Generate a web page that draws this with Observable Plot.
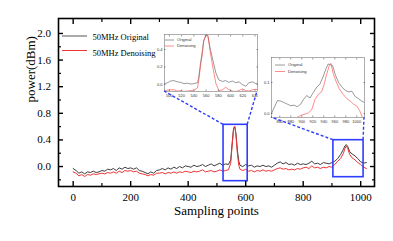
<!DOCTYPE html>
<html><head><meta charset="utf-8">
<script src="https://cdn.jsdelivr.net/npm/d3@7"></script>
<script src="https://cdn.jsdelivr.net/npm/@observablehq/plot@0.6"></script>
<style>
body{margin:0;background:#fff;}
#wrap{position:relative;width:393px;height:241px;overflow:hidden;}
#wrap > svg, #wrap > div{position:absolute;}
</style></head><body><div id="wrap"></div>
<script>
// ---- main series ----
const samples = [0,10,20,30,40,50,60,70,80,90,100,110,120,130,140,150,160,170,180,190,200,210,220,230,240,250,260,270,280,290,300,310,320,330,340,350,360,370,380,390,400,410,420,430,440,450,460,470,480,490,500,510,520,530,540,548,553,558,562,566,571,576,580,590,600,610,620,630,640,650,660,670,680,690,700,710,720,730,740,750,760,770,780,790,800,810,820,830,840,850,860,870,880,890,900,910,920,930,940,945,950,955,962,970,980,990,1000,1010,1020];
const original = [-0.03,-0.06,-0.10,-0.08,-0.11,-0.08,-0.09,-0.07,-0.09,-0.08,-0.06,-0.07,-0.04,-0.05,-0.03,-0.06,-0.02,-0.04,-0.01,-0.03,-0.02,-0.04,-0.02,-0.06,-0.07,-0.09,-0.11,-0.08,-0.10,-0.06,-0.05,-0.03,-0.05,-0.02,-0.04,-0.01,-0.03,0.00,-0.02,0.01,0.00,-0.01,0.02,0.00,0.01,0.03,0.00,0.02,0.04,0.01,0.03,0.05,0.02,0.04,0.03,0.10,0.35,0.58,0.60,0.50,0.25,0.08,0.02,0.00,0.03,0.01,0.02,-0.01,0.01,0.00,0.02,0.00,0.01,-0.01,0.02,0.05,0.07,0.04,0.06,0.03,0.04,0.02,0.05,0.03,0.04,0.03,0.05,0.08,0.04,0.05,0.03,0.06,0.05,0.04,0.06,0.08,0.12,0.18,0.26,0.31,0.33,0.30,0.22,0.19,0.16,0.12,0.07,0.05,0.06];
const denoising = [-0.08,-0.10,-0.14,-0.12,-0.15,-0.12,-0.13,-0.11,-0.12,-0.11,-0.10,-0.11,-0.09,-0.10,-0.08,-0.10,-0.07,-0.09,-0.06,-0.07,-0.06,-0.08,-0.07,-0.10,-0.11,-0.12,-0.14,-0.12,-0.13,-0.10,-0.10,-0.09,-0.11,-0.09,-0.10,-0.08,-0.10,-0.08,-0.09,-0.07,-0.08,-0.09,-0.07,-0.08,-0.07,-0.05,-0.08,-0.07,-0.06,-0.08,-0.07,-0.05,-0.07,-0.06,-0.05,0.05,0.32,0.57,0.60,0.48,0.20,0.02,-0.04,-0.06,-0.04,-0.07,-0.06,-0.08,-0.06,-0.07,-0.05,-0.07,-0.06,-0.07,-0.05,-0.03,-0.02,-0.04,-0.03,-0.05,-0.04,-0.05,-0.03,-0.04,-0.02,-0.01,-0.03,0.01,-0.02,-0.01,-0.03,-0.01,-0.02,0.00,-0.01,0.03,0.08,0.12,0.20,0.27,0.31,0.27,0.18,0.13,0.10,0.06,0.03,-0.01,-0.03];

// zoom boxes (data units)
const boxX1 = [523, 905], boxX2 = [607, 1010], boxY1 = [-0.22, -0.16], boxY2 = [0.627, 0.396];

// ticks
const xMajor = [0,200,400,600,800,1000], xMinor = [100,300,500,700,900];
const yMajor = [0,0.4,0.8,1.2,1.6,2.0], yMinor = [-0.2,0.2,0.6,1.0,1.4,1.8];
const seriesNames = ["50MHz Original","50MHz Denoising"];

// ---- inset 1 ----
const in1X = [492,497,502,507,513,518,524,529,535,540,546,548,551,554,556,560,563,567,572,576,581,587,592,597,603,608,614,619,625,630,636,641,644];
const in1Orig = [0.01,0.02,0.04,0.045,0.03,0.025,0.01,0.015,0.005,0.01,0.02,0.08,0.25,0.39,0.50,0.57,0.55,0.40,0.25,0.13,0.05,0.035,0.045,0.025,0.04,0.02,0.03,0.0,-0.02,0.02,0.03,0.01,0.015];
const in1Den = [-0.07,-0.065,-0.06,-0.06,-0.075,-0.07,-0.08,-0.075,-0.07,-0.065,-0.04,0.05,0.22,0.35,0.49,0.57,0.56,0.36,0.16,0.01,-0.07,-0.06,-0.03,-0.06,-0.075,-0.08,-0.07,-0.05,-0.07,-0.075,-0.06,-0.055,-0.06];
const in1XTicks = [500,520,540,560,580,600,620,640], in1YTicks = [0,0.2,0.4];

// ---- inset 2 ----
const in2OrigX = [845,850,856,862,868,874,880,886,892,898,903,909,915,921,927,933,939,944,948,952,956,961,967,973,979,985,991,997,1003,1009,1013];
const in2Orig = [0.0,0.02,0.042,0.04,0.035,0.03,0.025,0.027,0.022,0.03,0.045,0.058,0.05,0.068,0.085,0.095,0.12,0.145,0.16,0.158,0.155,0.125,0.1,0.085,0.075,0.07,0.072,0.055,0.048,0.04,0.036];
const in2DenX = [891,900,906,912,918,924,930,936,940,945,950,953,957,962,968,975,982,988,994,1000,1005,1010];
const in2Den = [-0.013,-0.005,-0.002,0.002,0.012,0.045,0.062,0.07,0.09,0.125,0.155,0.162,0.13,0.105,0.08,0.062,0.048,0.04,0.03,0.024,0.01,-0.012];
const in2XTicks = [860,880,900,920,940,960,980,1000], in2YTicks = [0,0.1];
const insetNames = ["Original","Denoising"];

// ---- style ----
const GRAY = "#3d3d3d", RED = "#f03434", BLUE = "#2f3dff";
const FONT = "'Liberation Serif','Times New Roman',serif";

const rows = (xs, ys) => xs.map((x, i) => ({x, y: ys[i]}));
const wrap = document.getElementById("wrap");

const boxes = boxX1.map((d, i) => ({x1: d, x2: boxX2[i], y1: boxY1[i], y2: boxY2[i]}));
const blank = () => "";

const main = Plot.plot({
  width: 393, height: 241,
  marginLeft: 58, marginRight: 19, marginTop: 18, marginBottom: 55,
  style: {fontFamily: FONT, fontSize: "11px", background: "transparent", color: "#000", overflow: "visible"},
  x: {domain: [-51, 1048]},
  y: {domain: [-0.3, 2.225]},
  marks: [
    Plot.line(rows(samples, original), {x: "x", y: "y", stroke: GRAY, strokeWidth: 1}),
    Plot.line(rows(samples, denoising), {x: "x", y: "y", stroke: RED, strokeWidth: 1}),
    Plot.rect(boxes, {x1: "x1", x2: "x2", y1: "y1", y2: "y2", stroke: BLUE, strokeWidth: 1.6, fill: "none"}),
    Plot.frame({stroke: "#000", strokeWidth: 1.6}),
    Plot.axisX({ticks: xMajor, tickSize: -5, tickPadding: 12, label: null, tickFormat: d => String(d), strokeWidth: 1.4}),
    Plot.axisX({ticks: xMinor, tickSize: -3, tickPadding: 0, label: null, tickFormat: blank, strokeWidth: 1.2}),
    Plot.axisX({anchor: "top", ticks: xMajor, tickSize: -5, label: null, tickFormat: blank, strokeWidth: 1.4}),
    Plot.axisX({anchor: "top", ticks: xMinor, tickSize: -3, label: null, tickFormat: blank, strokeWidth: 1.2}),
    Plot.axisY({ticks: yMajor, tickSize: -5, tickPadding: 12.5, label: null, tickFormat: d3.format(".1f"), strokeWidth: 1.4}),
    Plot.axisY({ticks: yMinor, tickSize: -3, label: null, tickFormat: blank, strokeWidth: 1.2}),
    Plot.axisY({anchor: "right", ticks: yMajor, tickSize: -5, label: null, tickFormat: blank, strokeWidth: 1.4}),
    Plot.axisY({anchor: "right", ticks: yMinor, tickSize: -3, label: null, tickFormat: blank, strokeWidth: 1.2}),
    Plot.text(["Sampling points"], {frameAnchor: "bottom", dy: 28, fontSize: 13}),
    Plot.text(["power(dBm)"], {frameAnchor: "left", rotate: -90, dx: -28, fontSize: 13})
  ]
});
main.style.left = "0px"; main.style.top = "0px";
wrap.appendChild(main);

// legend in main chart
const msvg = d3.select(main);
const legColors = ["#555", RED];
const legY = [36, 50.5], legTextY = [37.5, 53];
seriesNames.forEach((name, i) => {
  msvg.append("line").attr("x1", 62).attr("x2", 87).attr("y1", legY[i]).attr("y2", legY[i])
    .attr("stroke", legColors[i]).attr("stroke-width", 1);
  msvg.append("text").attr("x", 92.5).attr("y", legTextY[i]).attr("dy", "0.32em")
    .attr("text-anchor", "start")
    .attr("font-family", FONT).attr("font-size", 8.5).attr("fill", "#000").text(name);
});

// ---- insets ----
const insetLayout = [{left: 164, top: 34, w: 93, h: 57}, {left: 271, top: 57, w: 93, h: 60}];
const ML = 9, MT = 1, MR = 1, MB = 8;
function makeInset(k, oRows, dRows, xdom, ydom, xt, yt, yfmt, legDy) {
  const L = insetLayout[k];
  const p = Plot.plot({
    width: L.w + ML + MR, height: L.h + MT + MB,
    marginLeft: ML, marginTop: MT, marginRight: MR, marginBottom: MB,
    style: {fontFamily: "'Liberation Sans',Arial,sans-serif", fontSize: "4px", background: "transparent", color: "#333"},
    x: {domain: xdom}, y: {domain: ydom},
    marks: [
      Plot.frame({fill: "#fff", stroke: "none"}),
      Plot.line(oRows, {x: "x", y: "y", stroke: "#555", strokeWidth: 0.6, clip: true}),
      Plot.line(dRows, {x: "x", y: "y", stroke: "#ff3c3c", strokeWidth: 0.6, clip: true}),
      Plot.frame({stroke: "#777", strokeWidth: 0.6}),
      Plot.axisX({ticks: xt, tickSize: -1.5, tickPadding: 4.5, label: null, tickFormat: d => String(d), strokeWidth: 0.5}),
      Plot.axisX({anchor: "top", ticks: xt, tickSize: -1.5, label: null, tickFormat: blank, strokeWidth: 0.5}),
      Plot.axisY({ticks: yt, tickSize: -1.5, tickPadding: 3.5, label: null, tickFormat: yfmt, strokeWidth: 0.5}),
      Plot.axisY({anchor: "right", ticks: yt, tickSize: -1.5, label: null, tickFormat: blank, strokeWidth: 0.5})
    ]
  });
  p.style.left = (L.left - ML) + "px";
  p.style.top = (L.top - MT) + "px";
  wrap.appendChild(p);
  const s = d3.select(p);
  const cols = ["#555", "#ff3c3c"];
  insetNames.forEach((name, i) => {
    const y = MT + legDy[i];
    s.append("line").attr("x1", ML + legDy[2]).attr("x2", ML + legDy[3]).attr("y1", y).attr("y2", y)
      .attr("stroke", cols[i]).attr("stroke-width", 0.6);
    s.append("text").attr("x", ML + legDy[3] + 3).attr("y", y).attr("dy", "0.32em")
      .attr("text-anchor", "start")
      .attr("font-family", "'Liberation Sans',Arial,sans-serif").attr("font-size", 4.2).attr("fill", "#333").text(name);
  });
}
makeInset(0, rows(in1X, in1Orig), rows(in1X, in1Den), [492, 644], [-0.08, 0.571], in1XTicks, in1YTicks, d3.format(".1f"), [6, 12, 1, 10]);
makeInset(1, rows(in2OrigX, in2Orig), rows(in2DenX, in2Den), [845, 1014], [-0.013, 0.181], in2XTicks, in2YTicks, d3.format(".1f"), [8, 14.5, 4, 14]);

// ---- dashed connectors from zoom boxes to insets ----
const sx = main.scale("x"), sy = main.scale("y");
const over = d3.select(wrap).append("svg").attr("width", 393).attr("height", 241)
  .style("left", "0px").style("top", "0px").style("pointer-events", "none");
boxes.forEach((b, i) => {
  const L = insetLayout[i];
  const pairs = [[sx.apply(b.x1), sy.apply(b.y2), L.left, L.top + L.h], [sx.apply(b.x2), sy.apply(b.y2), L.left + L.w, L.top + L.h]];
  pairs.forEach(([x1, y1, x2, y2]) => {
    over.append("line").attr("x1", x1).attr("y1", y1).attr("x2", x2).attr("y2", y2)
      .attr("stroke", BLUE).attr("stroke-width", 1.4).attr("stroke-dasharray", "3,2");
  });
});
</script>
</body></html>
